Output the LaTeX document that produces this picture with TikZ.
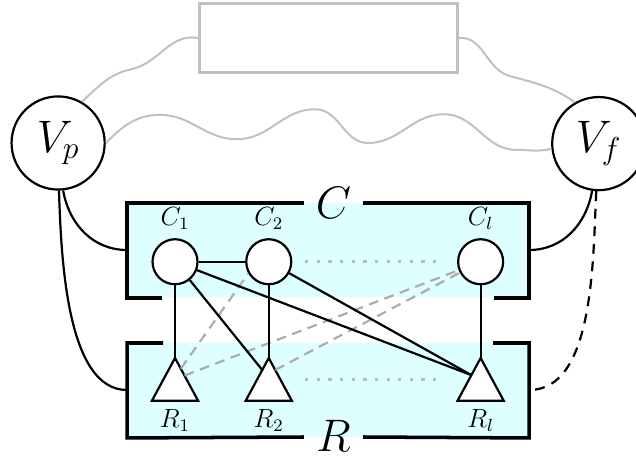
\documentclass[tikz,border=0pt]{standalone}
\usetikzlibrary{calc}
\definecolor{boxcyan}{HTML}{DDFFFF}
\definecolor{softgray}{HTML}{C0C0C0}
\begin{document}
\begin{tikzpicture}[
line width=1pt,
vnode/.style={draw,circle,fill=white,minimum size=1.49cm,inner sep=0,font=\huge},
cnode/.style={draw,circle,fill=white,minimum size=0.72cm,inner sep=0},
tri/.style={draw,fill=white},
group/.style={fill=boxcyan,minimum width=6.4cm,minimum height=1.5cm,inner sep=0},
bracket/.style={line width=1.6pt},
soft/.style={softgray,line width=.9pt},
hint/.style={gray!65,dash pattern=on 4.5pt off 3pt},
dotrow/.style={gray!55,line width=1.5pt,dash pattern=on 1.5pt off 3.8pt}
]

\useasboundingbox (0,0) rectangle (10.176,7.328);

% shaded groups
\node[group] (Cbox) at (5.25,3.328) {};
\node[group] (Rbox) at (5.25,1.088) {};

\draw[bracket] (4.86,4.08) -| (Cbox.south west) -- ++(.56,0);
\draw[bracket] (5.81,4.08) -| (Cbox.south east) -- ++(-.56,0);
\draw[bracket] (2.61,1.84) -| (Rbox.south west) -- (4.86,.336);
\draw[bracket] (7.89,1.84) -| (Rbox.south east) -- (5.81,.336);

\node[font=\huge,inner sep=0] (Clab) at (5.335,4.08) {$C$};
\node[font=\huge,inner sep=0] (Rlab) at (5.335,.36) {$R$};

% outer nodes
\node[vnode] (Vp) at (.93,5.04) {$V_p$};
\node[vnode] (Vf) at (9.58,5.03) {$V_f$};
\node[draw=softgray,line width=1.3pt,minimum width=4.13cm,minimum height=1.1cm,inner sep=0] (top) at (5.255,6.72) {};

\draw[soft] (top.west) to[out=170,in=12] (2.1,6.22) to[out=192,in=42] (Vp.60);
\draw[soft] (top.east) to[out=5,in=165] (8.16,6.11) to[out=-15,in=145] (Vf.120);
\draw[soft] (Vp.east) to[out=45,in=180] (2.56,5.49) to[out=0,in=180] (3.79,5.10)
  to[out=0,in=180] (5.04,5.58) to[out=0,in=180] (5.89,5.04)
  to[out=0,in=180] (7.10,5.50) to[out=0,in=180] (8.26,4.93) to[out=0,in=195] (Vf.186);

\draw (Vp.-84) to[out=-80,in=180] (Cbox.west);
\draw (Vp.-89) to[out=-88,in=180,looseness=.75] (Rbox.west);
\draw (Vf.-98) to[out=-100,in=0] (Cbox.east);
\draw[dash pattern=on 4.5pt off 3.5pt] (Vf.-93) to[out=-93,in=0,looseness=.8] (Rbox.east);

% triangles
\draw[tri] (2.80,1.60) coordinate (R1top) -- (3.17,.915) coordinate (R1r) -- (2.43,.915) coordinate (R1l) -- cycle;
\draw[tri] (4.30,1.60) coordinate (R2top) -- (4.67,.915) coordinate (R2r) -- (3.93,.915) coordinate (R2l) -- cycle;
\draw[tri] (7.69,1.60) coordinate (Rltop) -- (8.06,.915) coordinate (Rlr) -- (7.32,.915) coordinate (Rll) -- cycle;
\node[below,font=\large] (R1lab) at ($(R1l)!.5!(R1r)$) {$R_1$};
\node[below,font=\large] (R2lab) at ($(R2l)!.5!(R2r)$) {$R_2$};
\node[below,font=\large] (Rllab) at ($(Rll)!.5!(Rlr)$) {$R_l$};

% circles
\node[cnode,label={[font=\large]above:$C_1$}] (C1) at (2.80,3.14) {};
\node[cnode,label={[font=\large]above:$C_2$}] (C2) at (4.30,3.14) {};
\node[cnode,label={[font=\large]above:$C_l$}] (Cl) at (7.69,3.14) {};

\draw[dotrow] (4.88,3.14) -- (6.99,3.14);
\draw[dotrow] (4.88,1.26) -- (6.99,1.26);

\draw[hint] ($(R1top)!.25!(R1r)$) -- (C2.210);
\draw[hint] ($(R1top)!.41!(R1r)$) -- (Cl);
\draw[hint] ($(R2top)!.28!(R2r)$) -- (Cl);

\draw (C1) -- (C2);
\draw (C1) -- (R1top);
\draw (C2) -- (R2top);
\draw (Cl) -- (Rltop);
\draw (C1) -- ($(R2top)!.28!(R2l)$);
\draw (C1) -- ($(Rltop)!.4!(Rll)$);
\draw (C2) -- ($(Rltop)!.4!(Rll)$);

\end{tikzpicture}
\end{document}
